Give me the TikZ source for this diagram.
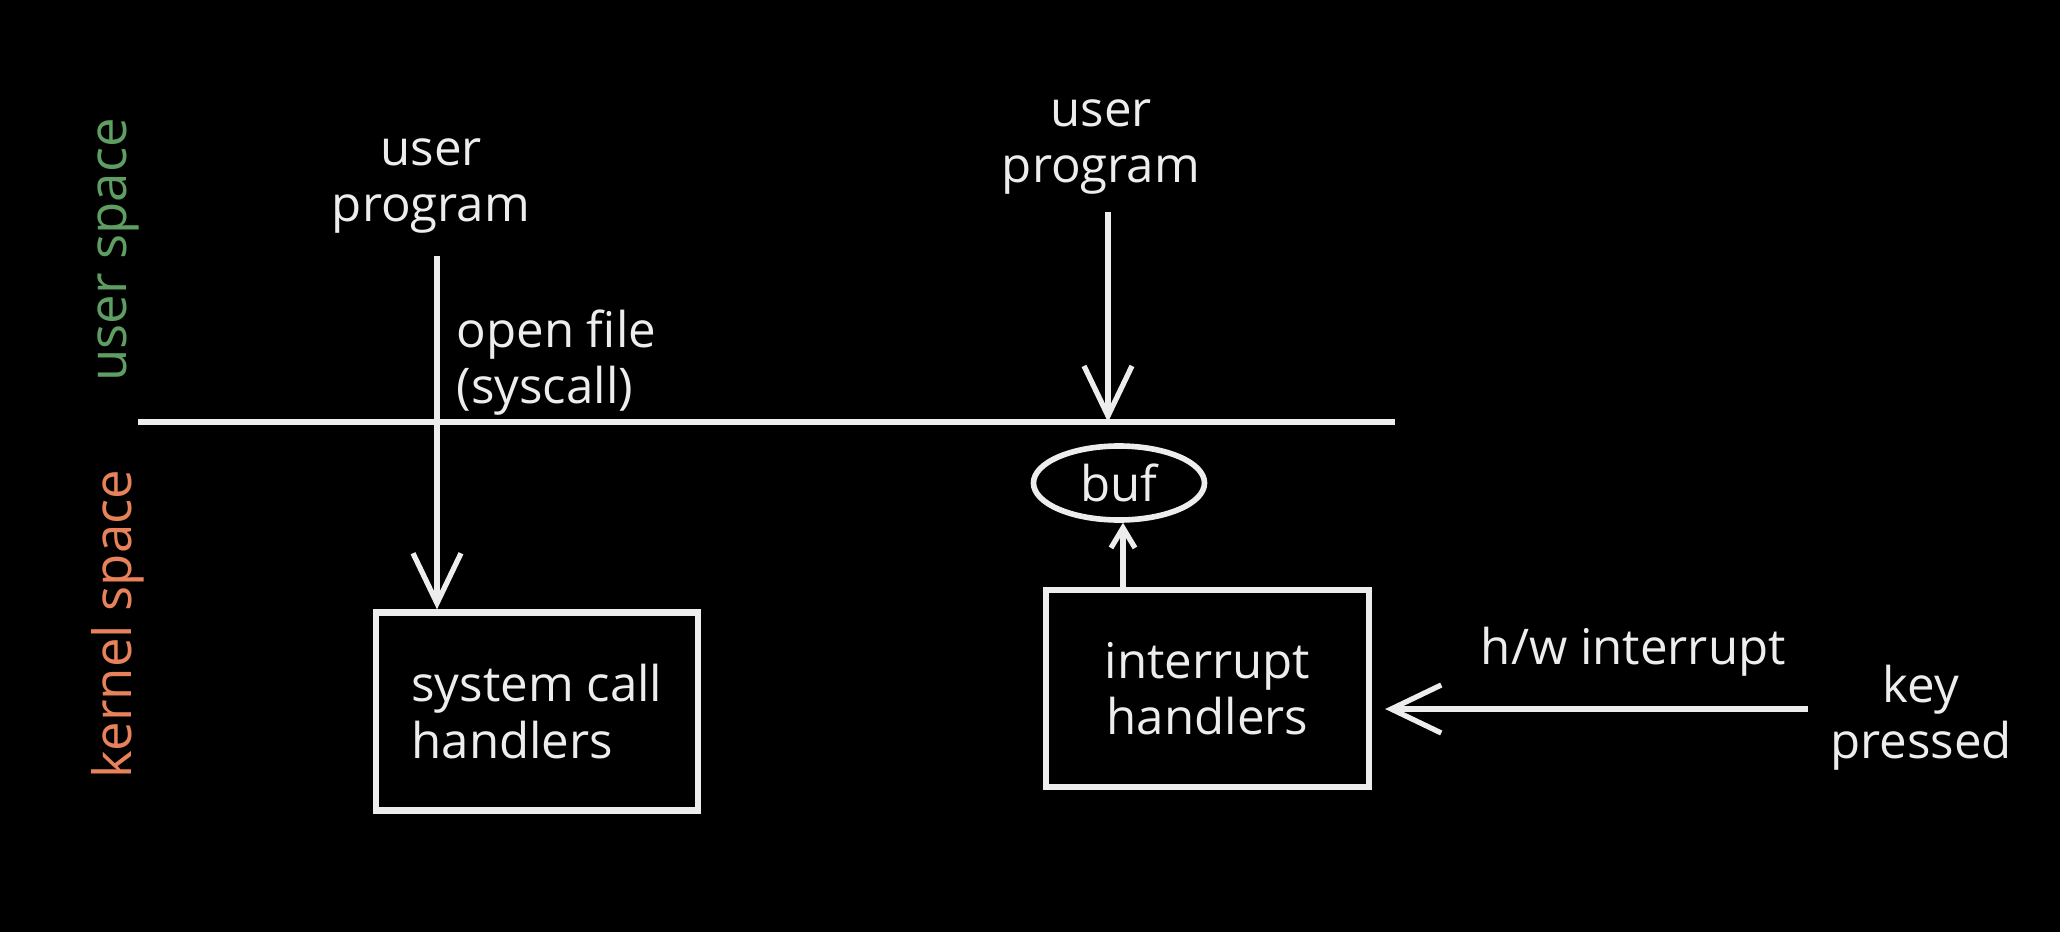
\documentclass[tikz,border=0pt]{standalone}
\usepackage{fontspec}
\setmainfont{Open Sans}
\usepackage{xcolor}
\usepackage{tikz}
\usetikzlibrary{calc,arrows.meta,positioning,shapes.geometric}
\definecolor{chalk}{HTML}{EDEDED}
\definecolor{userGreen}{HTML}{5E9E62}
\definecolor{kernelOrange}{HTML}{E8825A}

\begin{document}
\begin{tikzpicture}[
        font=\fontsize{14}{16}\selectfont,
        every node/.style={text=chalk},
        txt/.style={align=center, inner sep=2pt},
        handlerbox/.style={draw=chalk, line width=1.8pt, minimum width=3.22cm, minimum height=1.98cm, align=left},
        bufnode/.style={ellipse, draw=chalk, line width=1.6pt, minimum width=1.71cm, minimum height=0.74cm, inner sep=0pt},
        sidelabel/.style={rotate=90, font=\fontsize{15}{17}\selectfont},
        arr/.style={-{Straight Barb[length=0.5cm, width=0.48cm, line width=1.5pt]}, line width=1.6pt, draw=chalk},
        smallarr/.style={-{Straight Barb[length=0.2cm, width=0.24cm, line width=1.5pt]}, line width=1.6pt, draw=chalk}
    ]
        % --- canvas ---
        \fill[black] (0,0) rectangle (20.6,-9.32);
        \useasboundingbox (0,0) rectangle (20.6,-9.32);

        % --- user / kernel boundary ---
        \coordinate (bndL) at (1.38,-4.22);
        \coordinate (bndR) at (13.95,-4.22);
        \coordinate (hit) at (11.08,-4.22);
        \draw[draw=chalk, line width=1.8pt] (bndL) -- (bndR);
        \node[sidelabel, text=userGreen] (uspace) at (1.18,-2.5) {user space};
        \node[sidelabel, text=kernelOrange] (kspace) at (1.18,-6.24) {kernel space};

        % --- syscall path ---
        \node[txt] (prog1) at (4.31,-1.86) {user\\program};
        \node[handlerbox] (sysh) at (5.37,-7.115) {system call\\handlers};
        \draw[arr, shorten <=0.15cm] ([xshift=0.06cm]prog1.south) -- ([xshift=0.06cm]prog1.south |- sysh.north)
            node[pos=0.33, right=0.05cm, align=left] {open file\\(syscall)};

        % --- interrupt path ---
        \node[txt] (prog2) at (11.01,-1.47) {user\\program};
        \draw[arr, shorten <=0.1cm] (prog2.south -| hit) -- (hit);
        \node[bufnode] (buf) at (11.19,-4.83) {buf};
        \node[handlerbox, align=center, minimum width=3.23cm, minimum height=1.97cm] (inth) at (12.075,-6.885) {interrupt\\handlers};
        \draw[smallarr] ([xshift=0.04cm]inth.north -| buf.south) -- ([xshift=0.04cm]buf.south);
        \node[txt] (key) at (19.21,-7.18) {key\\pressed};
        \draw[arr, shorten <=0.15cm, shorten >=0.13cm] ([yshift=0.09cm]key.west) -- ([yshift=0.09cm]key.west -| inth.east)
            node[pos=0.42, above=0.18cm] (hw) {h/w interrupt};
    \end{tikzpicture}
\end{document}
